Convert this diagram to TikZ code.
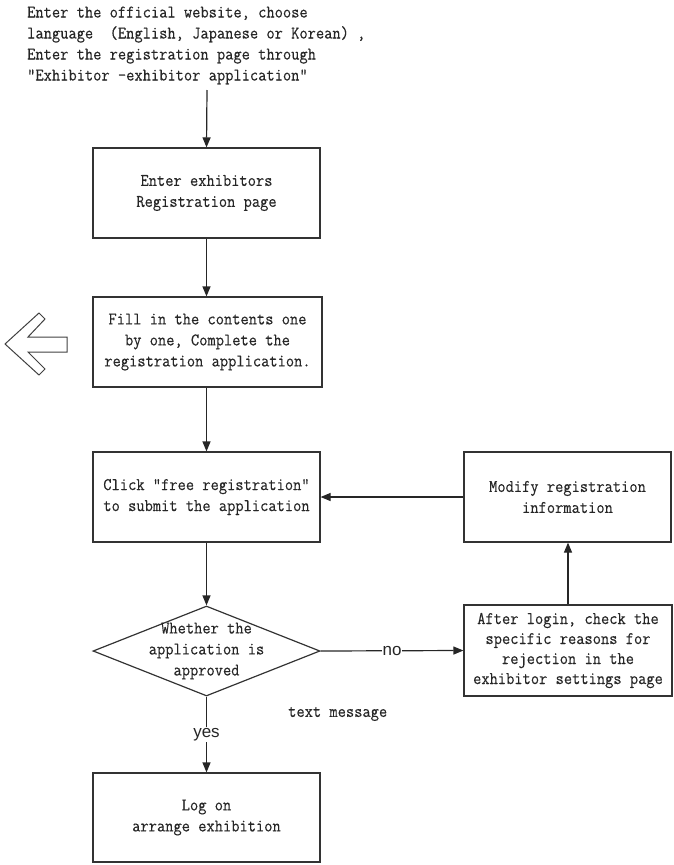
\documentclass[tikz,border=0pt]{standalone}
\usepackage{fontspec}
\usetikzlibrary{shapes.geometric,arrows.meta}
\newfontfamily\monofont[FakeStretch=0.9,FakeBold=0.3]{Latin Modern Mono}
\newfontfamily\labfont{Liberation Sans}
\begin{document}
\begin{tikzpicture}[x=1pt,y=-1pt,
  txt/.style={font=\monofont\fontsize{17.8}{21}\selectfont, text=black!85, inner sep=0pt},
  box/.style={txt, draw=black!80, line width=1.2pt, rectangle, align=center, minimum height=90pt},
  conn/.style={line width=1.2pt, draw=black!85, -{Triangle[length=10pt,width=8pt]}},
  lab/.style={font=\labfont\fontsize{17}{20}\selectfont, text=black!85, fill=white, inner sep=1.5pt}
]
\useasboundingbox (0,0) rectangle (673,865);

\node[txt, align=left, anchor=west] (intro) at (27,45.5) {Enter the official website, choose\\language~~(English, Japanese or Korean)~,\\Enter the registration page through\\"Exhibitor -exhibitor application"};
\coordinate (start) at (207,90);

\node[box, minimum width=227pt] (b1) at (206.5,193) {Enter exhibitors\\Registration page};
\node[box, minimum width=229pt] (b2) at (207.5,342) {Fill in the contents one\\by one, Complete the\\registration application.};
\node[box, minimum width=227pt] (b3) at (206.5,497) {Click "free registration"\\to submit the application};
\node[box, minimum width=207pt] (mod) at (567.5,497) {Modify registration\\information};
\node[diamond, draw=black!80, line width=1.2pt, minimum width=227pt, minimum height=90pt, aspect=2.52, inner sep=0pt] (d) at (206.5,651) {};
\node[txt, align=center] (dtext) at (d.center) {Whether the\\application is\\approved};
\node[box, minimum width=208pt, minimum height=91pt, font=\monofont\fontsize{17.8}{20}\selectfont] (after) at (568,650.5) {After login, check the\\specific reasons for\\rejection in the\\exhibitor settings page};
\node[box, minimum width=227pt, minimum height=89pt] (fin) at (206.5,817.5) {Log on\\arrange exhibition};
\node[txt, anchor=west] (msg) at (288,714) {text message};

% block arrow pointing left
\draw[line width=1pt, draw=black!75, line join=miter]
  (5,344) -- (39,313) -- (45,319) -- (28,337) -- (67,337) -- (67,352) -- (28,352) -- (45,369) -- (39,375) -- cycle;

\draw[conn] (start) -- (b1.north);
\draw[conn] (b1.south) -- (b1.south |- b2.north);
\draw[conn] (b2.south -| b3.north) -- (b3.north);
\draw[conn] (mod.west) -- (b3.east);
\draw[conn] (b3.south) -- (d.north);
\draw[conn] (d.east) -- node[lab, inner sep=0.5pt] (no) {no} (after.west);
\draw[conn] (after.north) -- (after.north |- mod.south);
\draw[conn] (d.south) -- node[lab] (yes) {yes} (fin.north);
\end{tikzpicture}
\end{document}
